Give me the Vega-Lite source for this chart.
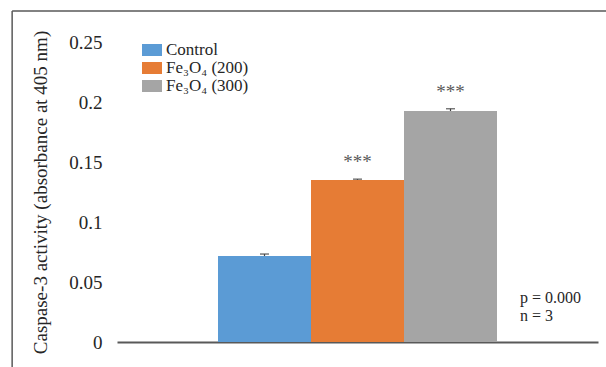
{
  "$schema": "https://vega.github.io/schema/vega-lite/v6.json",
  "width": 481,
  "height": 300,
  "autosize": {"type": "none"},
  "padding": {"left": 117, "top": 42, "right": 8, "bottom": 25},
  "background": "white",
  "config": {
    "view": {"stroke": null},
    "font": "Liberation Serif, Times New Roman, serif"
  },
  "datasets": {
    "bars": [
      {"group": "Caspase-3", "series": "Control", "value": 0.0717, "upper": 0.0733, "sig": ""},
      {"group": "Caspase-3", "series": "Fe₃O₄ (200)", "value": 0.135, "upper": 0.1357, "sig": "***"},
      {"group": "Caspase-3", "series": "Fe₃O₄ (300)", "value": 0.1925, "upper": 0.1944, "sig": "***"}
    ],
    "notes": [
      {"label": "p = 0.000", "nx": 0.838, "ny": 0.0365},
      {"label": "n = 3", "nx": 0.838, "ny": 0.0215}
    ]
  },
  "layer": [
    {
      "data": {"name": "bars"},
      "encoding": {
        "x": {
          "field": "group", "type": "nominal",
          "scale": {"paddingInner": 0, "paddingOuter": 0.362},
          "axis": {"title": null, "labels": false, "ticks": false, "domain": true, "domainColor": "#595959", "domainWidth": 2, "grid": false}
        },
        "xOffset": {"field": "series", "type": "nominal", "sort": null, "scale": {"paddingInner": 0, "paddingOuter": 0}}
      },
      "layer": [
        {
          "mark": {"type": "bar"},
          "encoding": {
            "y": {
              "field": "value", "type": "quantitative",
              "scale": {"domain": [0, 0.25], "nice": false},
              "axis": {
                "title": "Caspase-3 activity (absorbance at 405 nm)",
                "titleFont": "Liberation Serif, Times New Roman, serif", "titleFontSize": 19, "titleFontWeight": "normal", "titleColor": "#262626", "titlePadding": 18,
                "values": [0, 0.05, 0.1, 0.15, 0.2, 0.25],
                "labelExpr": "datum.value == 0 ? '0' : format(datum.value, '.2~f')",
                "labelFont": "Liberation Serif, Times New Roman, serif", "labelFontSize": 19, "labelColor": "#262626", "labelPadding": 15,
                "ticks": false, "domain": false, "grid": false
              }
            },
            "color": {
              "field": "series", "type": "nominal", "sort": null,
              "scale": {"domain": ["Control", "Fe₃O₄ (200)", "Fe₃O₄ (300)"], "range": ["#5B9BD5", "#E67C35", "#A5A5A5"]},
              "legend": {
                "title": null, "orient": "none", "legendX": 25, "legendY": -2,
                "symbolType": "M-1,-0.6H1V0.6H-1Z", "symbolSize": 400, "symbolStrokeWidth": 0,
                "labelFont": "Liberation Serif, Times New Roman, serif", "labelFontSize": 17, "labelColor": "#262626", "labelOffset": 4,
                "rowPadding": 0, "padding": 0
              }
            }
          }
        },
        {
          "mark": {"type": "rule", "color": "#404040", "strokeWidth": 1.2},
          "encoding": {
            "y": {"field": "value", "type": "quantitative"},
            "y2": {"field": "upper"}
          }
        },
        {
          "mark": {"type": "tick", "color": "#404040", "size": 9, "thickness": 1.5},
          "encoding": {
            "y": {"field": "upper", "type": "quantitative"}
          }
        },
        {
          "mark": {"type": "text", "baseline": "middle", "align": "center", "dy": -17, "font": "Liberation Serif, Times New Roman, serif", "fontSize": 19, "color": "#595959"},
          "encoding": {
            "y": {"field": "upper", "type": "quantitative"},
            "text": {"field": "sig"}
          }
        }
      ]
    },
    {
      "data": {"name": "notes"},
      "layer": [
        {
          "mark": {"type": "text", "align": "left", "baseline": "middle", "font": "Liberation Serif, Times New Roman, serif", "fontSize": 16, "color": "#262626"},
          "encoding": {
            "x": {"field": "nx", "type": "quantitative", "scale": {"domain": [0, 1]}, "axis": null},
            "y": {"field": "ny", "type": "quantitative"},
            "text": {"field": "label"}
          }
        },
        {
          "data": {"values": [{"frame": "left"}]},
          "mark": {"type": "rule", "color": "#595959", "strokeWidth": 1.5, "clip": false},
          "encoding": {
            "x": {"datum": -0.218, "type": "quantitative"},
            "y": {"datum": -0.03, "type": "quantitative"},
            "y2": {"datum": 0.2758}
          }
        },
        {
          "data": {"values": [{"frame": "top"}]},
          "mark": {"type": "rule", "color": "#595959", "strokeWidth": 1.5, "clip": false},
          "encoding": {
            "x": {"datum": -0.218, "type": "quantitative"},
            "x2": {"datum": 1.03},
            "y": {"datum": 0.2758, "type": "quantitative"}
          }
        }
      ]
    }
  ],
  "resolve": {"scale": {"x": "independent"}, "axis": {"x": "independent"}}
}
